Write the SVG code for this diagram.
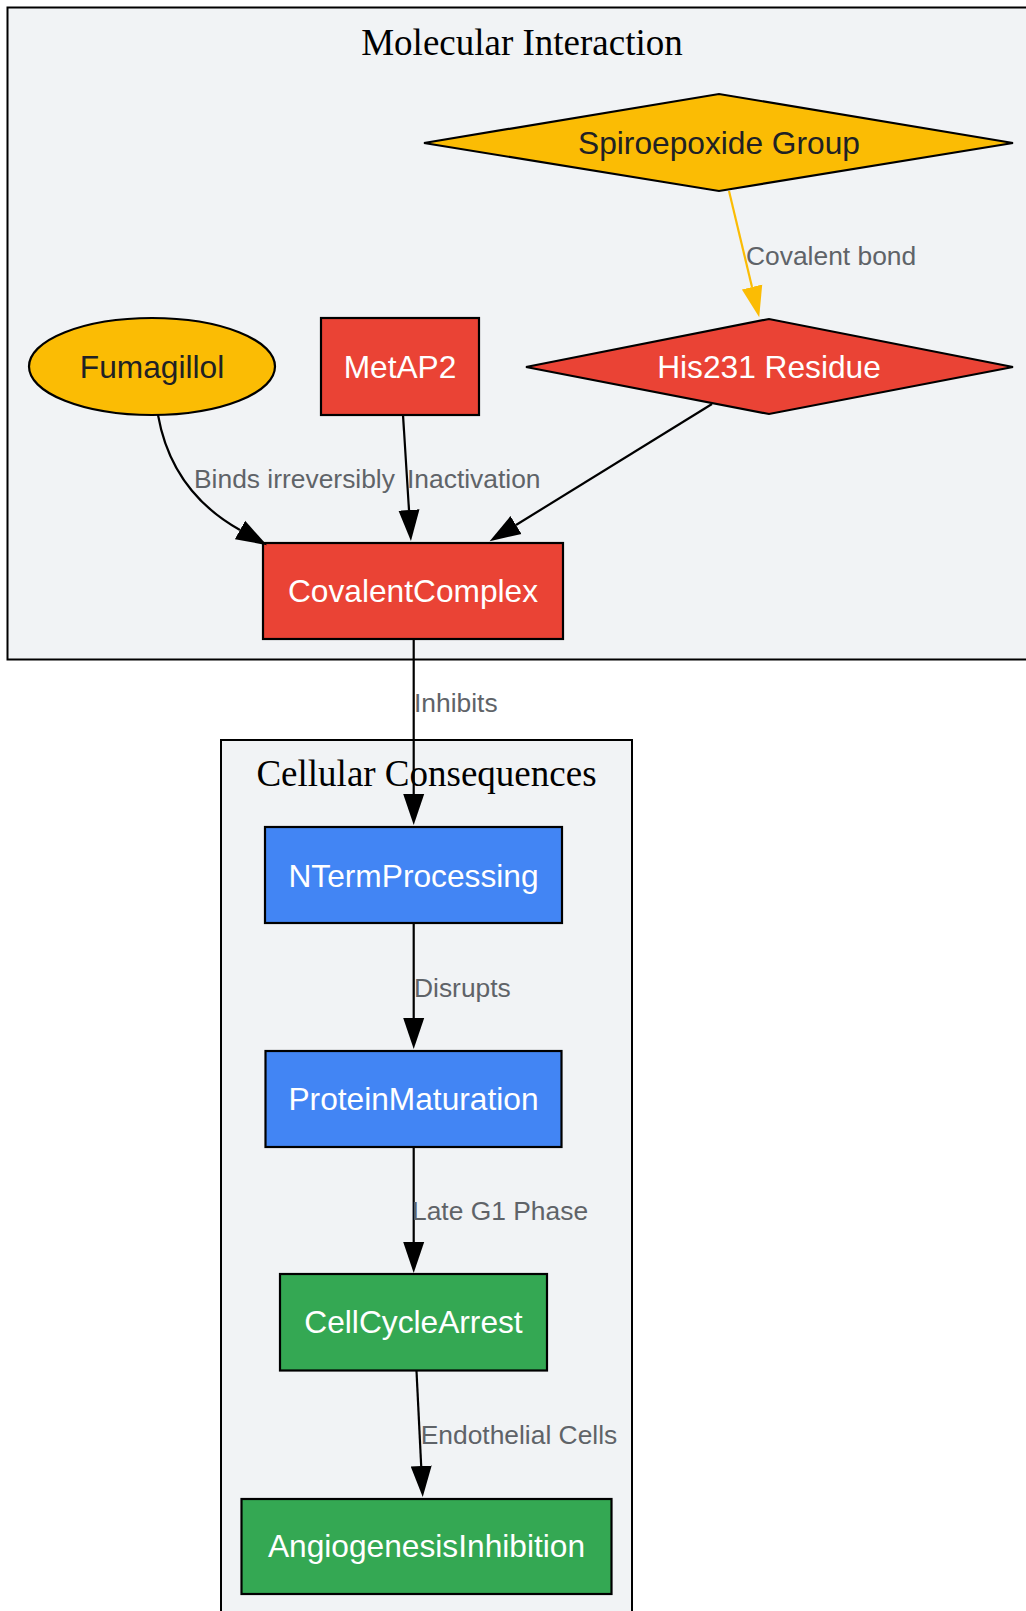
<svg xmlns="http://www.w3.org/2000/svg" width="1026" height="1611" viewBox="0 0 1026 1611">
<style>
.cluster{fill:#f1f3f5;stroke:#000;stroke-width:2}
.ctitle{font-family:"Liberation Serif","Times New Roman",serif;font-size:37px;fill:#000;text-anchor:middle}
.node{stroke:#000;stroke-width:2.2}
.ntext{font-family:"Liberation Sans",Arial,sans-serif;font-size:31.7px;text-anchor:middle}
.dark{fill:#202124}
.light{fill:#ffffff}
.edge{fill:none;stroke:#000;stroke-width:2.2}
.elabel{font-family:"Liberation Sans",Arial,sans-serif;font-size:26.4px;fill:#5f6368}
</style>
<defs>
<marker id="ah" markerUnits="userSpaceOnUse" markerWidth="32" markerHeight="22" refX="0" refY="10.5" orient="auto" viewBox="0 0 32 21">
<path d="M0,0 L31,10.5 L0,21 z" fill="#000"/>
</marker>
<marker id="ahy" markerUnits="userSpaceOnUse" markerWidth="32" markerHeight="22" refX="0" refY="10.5" orient="auto" viewBox="0 0 32 21">
<path d="M0,0 L31,10.5 L0,21 z" fill="#fbbc04"/>
</marker>
</defs>
<rect width="1026" height="1611" fill="#ffffff"/>
<g id="cluster_molecular">
<rect class="cluster" x="7.5" y="7.5" width="1040" height="652"/>
<text class="ctitle" x="522" y="55">Molecular Interaction</text>
</g>
<g id="cluster_cellular">
<rect class="cluster" x="221" y="740" width="411" height="900"/>
<text class="ctitle" x="426.5" y="786">Cellular Consequences</text>
</g>
<g id="Spiroepoxide">
<polygon class="node" points="424,143 719,94 1013,143 719,191" fill="#fbbc04"/>
<text class="ntext dark" x="719" y="154">Spiroepoxide Group</text>
</g>
<g id="Fumagillol">
<ellipse class="node" cx="152" cy="366.5" rx="123" ry="48.5" fill="#fbbc04"/>
<text class="ntext dark" x="152" y="378">Fumagillol</text>
</g>
<g id="MetAP2">
<rect class="node" x="321" y="318" width="158" height="97" fill="#ea4335"/>
<text class="ntext light" x="400" y="378">MetAP2</text>
</g>
<g id="His231">
<polygon class="node" points="526,367 769,319 1013,367 769,414" fill="#ea4335"/>
<text class="ntext light" x="769" y="378">His231 Residue</text>
</g>
<g id="CovalentComplex">
<rect class="node" x="263" y="543" width="300" height="96" fill="#ea4335"/>
<text class="ntext light" x="413" y="602">CovalentComplex</text>
</g>
<g id="NTermProcessing">
<rect class="node" x="265" y="827" width="297" height="96" fill="#4285f4"/>
<text class="ntext light" x="413.5" y="887">NTermProcessing</text>
</g>
<g id="ProteinMaturation">
<rect class="node" x="265.5" y="1051" width="296" height="96" fill="#4285f4"/>
<text class="ntext light" x="413.5" y="1110">ProteinMaturation</text>
</g>
<g id="CellCycleArrest">
<rect class="node" x="280" y="1274" width="267" height="96.5" fill="#34a853"/>
<text class="ntext light" x="413.5" y="1333">CellCycleArrest</text>
</g>
<g id="AngiogenesisInhibition">
<rect class="node" x="241.5" y="1499" width="370" height="95" fill="#34a853"/>
<text class="ntext light" x="426.5" y="1557">AngiogenesisInhibition</text>
</g>
<g id="edges">
<path class="edge" d="M729,191 L752,287" stroke="#fbbc04" style="stroke:#fbbc04" marker-end="url(#ahy)"/>
<text class="elabel" x="746" y="265">Covalent bond</text>
<path class="edge" d="M158,415 C166,460 190,502 240,530" marker-end="url(#ah)"/>
<text class="elabel" x="194" y="488">Binds irreversibly</text>
<path class="edge" d="M403,415 L409,510" marker-end="url(#ah)"/>
<text class="elabel" x="407" y="488">Inactivation</text>
<path class="edge" d="M712,404 L516,525" marker-end="url(#ah)"/>
<path class="edge" d="M413.7,639 L413.7,794" marker-end="url(#ah)"/>
<text class="elabel" x="414" y="712">Inhibits</text>
<path class="edge" d="M413.7,923 L413.7,1018" marker-end="url(#ah)"/>
<text class="elabel" x="414" y="997">Disrupts</text>
<path class="edge" d="M413.7,1147 L413.7,1242" marker-end="url(#ah)"/>
<text class="elabel" x="412" y="1220">Late G1 Phase</text>
<path class="edge" d="M416.5,1371 L421.2,1466" marker-end="url(#ah)"/>
<text class="elabel" x="420.7" y="1444">Endothelial Cells</text>
</g>
</svg>
